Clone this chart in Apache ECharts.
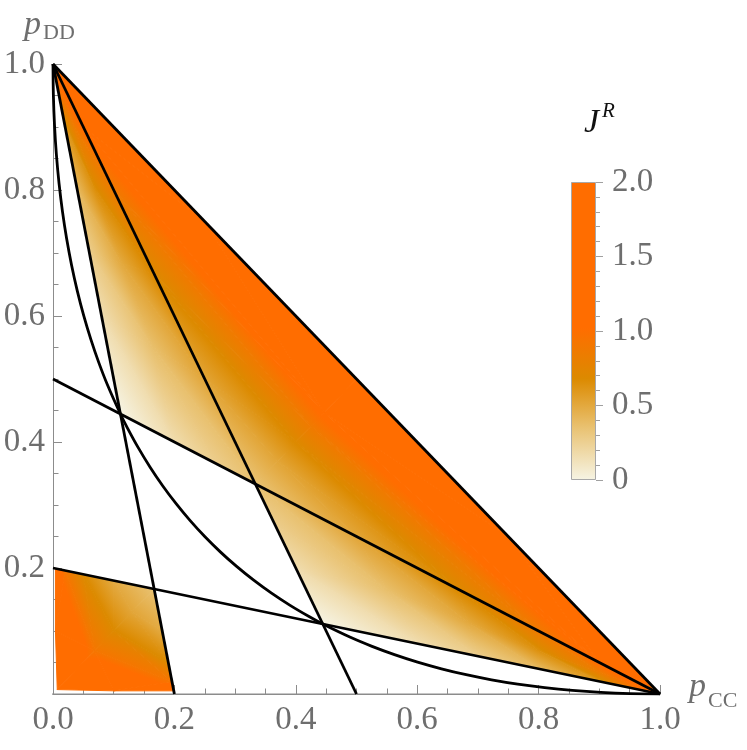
<!DOCTYPE html>
<html>
<head>
<meta charset="utf-8">
<script src="https://cdn.jsdelivr.net/npm/echarts@6/dist/echarts.min.js"></script>
<style>
  html, body { margin: 0; padding: 0; background: #fff; }
  #chart { width: 747px; height: 750px; }
</style>
</head>
<body>
<div id="chart"></div>
<script>
// boundary lines, end points as [pCC, pDD]
const lineDiag = [[0, 1], [1, 0]];
const lineHalfX = [[0, 1], [0.5, 0]];
const lineFifthX = [[0, 1], [0.2, 0]];
const lineHalfY = [[0, 0.5], [1, 0]];
const lineFifthY = [[0, 0.2], [1, 0]];

// the bent curve from (0,1) to (1,0)
const curvePts = [
  [0, 1], [0.000625, 0.950625], [0.0025, 0.9025], [0.005625, 0.855625], [0.01, 0.81],
  [0.015625, 0.765625], [0.0225, 0.7225], [0.030625, 0.680625], [0.04, 0.64],
  [0.050625, 0.600625], [0.0625, 0.5625], [0.075625, 0.525625], [0.09, 0.49],
  [0.1111, 0.4444], [0.1225, 0.4225], [0.140625, 0.390625], [0.16, 0.36],
  [0.180625, 0.330625], [0.2025, 0.3025], [0.225625, 0.275625], [0.25, 0.25],
  [0.275625, 0.225625], [0.3025, 0.2025], [0.330625, 0.180625], [0.36, 0.16],
  [0.390625, 0.140625], [0.4225, 0.1225], [0.4444, 0.1111], [0.49, 0.09],
  [0.525625, 0.075625], [0.5625, 0.0625], [0.600625, 0.050625], [0.64, 0.04],
  [0.680625, 0.030625], [0.7225, 0.0225], [0.765625, 0.015625], [0.81, 0.01],
  [0.855625, 0.005625], [0.9025, 0.0025], [0.950625, 0.000625], [1, 0]
];

const meshX = [
  0, 1, 0.3333, 0.25, 0.1667, 0.1, 0.05, 0.5, 0.6667, 0.8, 0.9,
  0.37, 0.4, 0.425, 0.447, 0.25, 0.5, 0.75,
  0.1111, 0.2, 0.2667, 0.08, 0.06, 0.04, 0.02, 0.165, 0.1133, 0.07, 0.035,
  0.4444, 0.4, 0.3667, 0.6, 0.7, 0.8, 0.9, 0.55, 0.6833, 0.8, 0.9,
  0.1667, 0.1, 0.05, 0.02, 0.18, 0.19, 0.196, 0.13, 0.1, 0.0685,
  0.004, 0.004, 0.007, 0.1, 0.199
];
const meshY = [
  1, 0, 0.3333, 0.5, 0.6667, 0.8, 0.9, 0.25, 0.1667, 0.1, 0.05,
  0.37, 0.4, 0.425, 0.447, 0.75, 0.5, 0.25,
  0.4444, 0.4, 0.3667, 0.6, 0.7, 0.8, 0.9, 0.55, 0.6833, 0.8, 0.9,
  0.1111, 0.2, 0.2667, 0.08, 0.06, 0.04, 0.02, 0.165, 0.1133, 0.07, 0.035,
  0.1667, 0.18, 0.19, 0.196, 0.1, 0.05, 0.02, 0.13, 0.1, 0.0685,
  0.199, 0.1, 0.007, 0.005, 0.005
];
const meshJ = [
  1.15, 1.15, 0.35, 0.52, 0.69, 0.87, 1.07, 0.52, 0.69, 0.87, 1.07,
  0.52, 0.69, 0.87, 1.07, 1.4, 1.4, 1.4,
  0, 0.17, 0.27, 0.16, 0.27, 0.4, 0.6, 0.37, 0.5, 0.65, 0.85,
  0, 0.17, 0.27, 0.16, 0.27, 0.4, 0.6, 0.37, 0.5, 0.65, 0.85,
  0.35, 0.49, 0.68, 0.92, 0.49, 0.68, 0.92, 0.52, 0.69, 0.92,
  1.4, 1.4, 1.4, 1.4, 1.4
];
const meshTri = [
  // upper triangle between the steep line and the diagonal edge
  [2, 3, 11], [2, 11, 7],
  [3, 4, 12], [3, 12, 11], [11, 12, 8], [11, 8, 7],
  [4, 5, 13], [4, 13, 12], [12, 13, 9], [12, 9, 8],
  [5, 6, 14], [5, 14, 13], [13, 14, 10], [13, 10, 9],
  [6, 0, 15], [6, 15, 14], [14, 15, 16], [14, 16, 17], [14, 17, 10], [10, 17, 1],
  // left wedge
  [18, 19, 21], [21, 19, 25], [19, 20, 25], [20, 2, 25], [25, 2, 3],
  [21, 25, 22], [22, 25, 26], [25, 3, 26], [26, 3, 4],
  [22, 26, 23], [23, 26, 27], [26, 4, 27], [27, 4, 5],
  [23, 27, 24], [24, 27, 28], [27, 5, 28], [28, 5, 6],
  [24, 28, 0], [28, 6, 0],
  // lower wedge
  [29, 30, 32], [32, 30, 36], [30, 31, 36], [31, 2, 36], [36, 2, 7],
  [32, 36, 33], [33, 36, 37], [36, 7, 37], [37, 7, 8],
  [33, 37, 34], [34, 37, 38], [37, 8, 38], [38, 8, 9],
  [34, 38, 35], [35, 38, 39], [38, 9, 39], [39, 9, 10],
  [35, 39, 1], [39, 10, 1],
  // corner patch near the origin
  [40, 41, 47], [40, 47, 44],
  [41, 42, 48], [41, 48, 47], [47, 48, 45], [47, 45, 44],
  [42, 43, 49], [42, 49, 48], [48, 49, 46], [48, 46, 45],
  [43, 50, 51], [43, 51, 49], [49, 51, 52], [49, 52, 53], [49, 53, 46], [46, 53, 54]
];

// colour scale of the legend bar
const cmapJ = [0, 0.35, 0.68, 1.02, 2];
const cmapColor = ['#f6f4e4', '#e9c272', '#dc8a00', '#ff6d00', '#ff6d00'];

const FONT = 'Liberation Serif';
const AXIS_GRAY = '#8c8c8c';
const LABEL_GRAY = '#6e6e6e';

function hexRgb(h) {
  return [1, 3, 5].map(i => parseInt(h.slice(i, i + 2), 16));
}
const cmapRgb = cmapColor.map(hexRgb);

function colorAt(v) {
  if (v <= cmapJ[0]) return cmapColor[0];
  for (let i = 1; i < cmapJ.length; i++) {
    if (v <= cmapJ[i]) {
      const t = (v - cmapJ[i - 1]) / (cmapJ[i] - cmapJ[i - 1]);
      const a = cmapRgb[i - 1], b = cmapRgb[i];
      return 'rgb(' + a.map((c, k) => Math.round(c + (b[k] - c) * t)).join(',') + ')';
    }
  }
  return cmapColor[cmapColor.length - 1];
}

// each triangle gets a linear gradient that matches J at its three corners
function shadeTriangle(params, api) {
  const tri = meshTri[params.dataIndex];
  const p = tri.map(k => api.coord([meshX[k], meshY[k]]));
  const j = tri.map(k => meshJ[k]);
  const e1 = [p[1][0] - p[0][0], p[1][1] - p[0][1]];
  const e2 = [p[2][0] - p[0][0], p[2][1] - p[0][1]];
  const d1 = j[1] - j[0], d2 = j[2] - j[0];
  const det = e1[0] * e2[1] - e1[1] * e2[0];
  const lo = Math.min(...j), hi = Math.max(...j);
  let fill;
  if (Math.abs(det) < 1e-6 || hi - lo < 1e-6) {
    fill = colorAt(j[0]);
  } else {
    const gx = (d1 * e2[1] - d2 * e1[1]) / det;
    const gy = (e1[0] * d2 - e2[0] * d1) / det;
    const g2 = gx * gx + gy * gy;
    const s = (lo - j[0]) / g2, e = (hi - j[0]) / g2;
    const stops = [{ offset: 0, color: colorAt(lo) }];
    cmapJ.forEach(k => {
      if (k > lo && k < hi) stops.push({ offset: (k - lo) / (hi - lo), color: colorAt(k) });
    });
    stops.push({ offset: 1, color: colorAt(hi) });
    fill = new echarts.graphic.LinearGradient(
      p[0][0] + gx * s, p[0][1] + gy * s, p[0][0] + gx * e, p[0][1] + gy * e, stops, true);
  }
  return {
    type: 'polygon',
    shape: { points: p },
    style: { fill: fill, stroke: fill, lineWidth: 1, lineJoin: 'round' }
  };
}

function blackLine(data) {
  return {
    type: 'line', data: data, symbol: 'none', silent: true, z: 5,
    lineStyle: { color: '#000', width: 2.8 }
  };
}

const tickLabel = { fontFamily: FONT, fontSize: 33, color: LABEL_GRAY };

const option = {
  animation: false,
  grid: [
    { left: 53, right: 87, top: 64, bottom: 56, containLabel: false, outerBoundsMode: 'none' },
    { left: 571, width: 25, top: 182, height: 298, containLabel: false, outerBoundsMode: 'none' }
  ],
  xAxis: [
    {
      type: 'value', min: 0, max: 1, interval: 0.2,
      axisLine: { lineStyle: { color: AXIS_GRAY, width: 1 } },
      axisTick: { inside: true, length: 9, lineStyle: { color: AXIS_GRAY } },
      minorTick: { show: true, splitNumber: 4, length: 5.5, lineStyle: { color: AXIS_GRAY } },
      splitLine: { show: false },
      axisLabel: Object.assign({ margin: 10, formatter: v => v.toFixed(1) }, tickLabel)
    },
    { gridIndex: 1, type: 'category', data: [''], show: false }
  ],
  yAxis: [
    {
      type: 'value', min: 0, max: 1, interval: 0.2,
      axisLine: { lineStyle: { color: AXIS_GRAY, width: 1 } },
      axisTick: { inside: true, length: 9, lineStyle: { color: AXIS_GRAY } },
      minorTick: { show: true, splitNumber: 4, length: 5.5, lineStyle: { color: AXIS_GRAY } },
      splitLine: { show: false },
      axisLabel: Object.assign({ margin: 8, formatter: v => (v === 0 ? '' : v.toFixed(1)) }, tickLabel)
    },
    {
      gridIndex: 1, type: 'value', position: 'right', min: 0, max: 2, interval: 0.5,
      axisLine: { show: false },
      axisTick: { show: true, length: 7, lineStyle: { color: '#a0a0a0' } },
      minorTick: { show: true, splitNumber: 5, length: 4, lineStyle: { color: '#a0a0a0' } },
      splitLine: { show: false },
      axisLabel: Object.assign({ margin: 16, formatter: v => (v === 0 ? '0' : v.toFixed(1)) }, tickLabel)
    }
  ],
  graphic: [
    { type: 'text', left: 24, top: 8, style: { text: 'p', font: 'italic 34px "Liberation Serif"', fill: LABEL_GRAY } },
    { type: 'text', left: 43, top: 22, style: { text: 'DD', font: '22px "Liberation Serif"', fill: LABEL_GRAY } },
    { type: 'text', left: 689, top: 670, style: { text: 'p', font: 'italic 34px "Liberation Serif"', fill: LABEL_GRAY } },
    { type: 'text', left: 708, top: 690, style: { text: 'CC', font: '22px "Liberation Serif"', fill: LABEL_GRAY } },
    { type: 'text', left: 584, top: 106, style: { text: 'J', font: 'italic 34px "Liberation Serif"', fill: '#111' } },
    { type: 'text', left: 602, top: 101, style: { text: 'R', font: 'italic 21px "Liberation Serif"', fill: '#111' } }
  ],
  series: [
    {
      type: 'custom', renderItem: shadeTriangle, silent: true, z: 1,
      data: meshTri.map(t => [meshX[t[0]], meshY[t[0]]])
    },
    {
      type: 'line', data: [[-0.018, 0], [1.02, 0]], symbol: 'none', silent: true, clip: false, z: 0,
      lineStyle: { color: AXIS_GRAY, width: 1 }
    },
    blackLine(lineDiag),
    blackLine(lineHalfX),
    blackLine(lineFifthX),
    blackLine(lineHalfY),
    blackLine(lineFifthY),
    Object.assign(blackLine(curvePts), { smooth: 0.3 }),
    {
      type: 'bar', xAxisIndex: 1, yAxisIndex: 1, data: [2], barWidth: '100%', silent: true,
      itemStyle: {
        borderColor: '#a8a8a8', borderWidth: 1,
        color: new echarts.graphic.LinearGradient(0, 1, 0, 0,
          cmapJ.map((k, i) => ({ offset: k / 2, color: cmapColor[i] })))
      }
    }
  ]
};

const chart = echarts.init(document.getElementById('chart'), null, { renderer: 'canvas' });
chart.setOption(option);
</script>
</body>
</html>
